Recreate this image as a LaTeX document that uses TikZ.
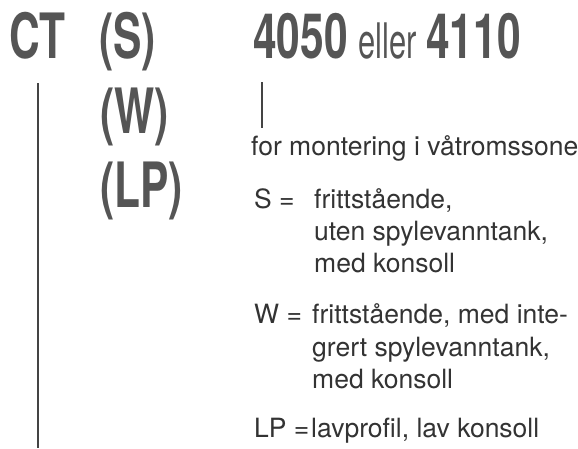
\documentclass[tikz,border=0pt]{standalone}
\usepackage{fontspec}
\setmainfont{TeX Gyre Heros}
\newfontfamily\condfont[FakeStretch=0.63]{TeX Gyre Heros}
\newfontfamily\condboldfont[FakeStretch=0.68]{TeX Gyre Heros}
\definecolor{biggray}{HTML}{555555}
\definecolor{txtgray}{HTML}{333333}
\definecolor{linegray}{HTML}{444444}
\begin{document}
\begin{tikzpicture}[x=1pt,y=-1pt,
  big/.style={anchor=base west,inner sep=0pt,text=biggray,font=\condboldfont\bfseries\fontsize{62.5}{70}\selectfont},
  mid/.style={anchor=base west,inner sep=0pt,text=biggray,font=\condfont\fontsize{49}{55}\selectfont},
  small/.style={anchor=base west,inner sep=0pt,text=txtgray,font=\fontsize{26.5}{32}\selectfont},
  rule/.style={draw=linegray,line width=2.4pt}]
\useasboundingbox[fill=white] (0,0) rectangle (578,448);
% header row
\node[big] (ct) at (9,58) {CT};
\node[big] (s) at (99,58) {(S)};
\node[big] (w) at (100,133) {(W)};
\node[big] (lp) at (100,207) {(LP)};
\node[big] (n1) at (253,58) {4050};
\node[mid] (or) at (358,58) {eller};
\node[big] (n2) at (426,58) {4110};
% rules
\coordinate (cta) at (38,83);
\coordinate (ctb) at (38,448);
\coordinate (nra) at (262,82);
\coordinate (nrb) at (262,128);
\draw[rule] (cta) -- (ctb);
\draw[rule] (nra) -- (nrb);
% descriptions
\node[small] (wet) at (251,155) {for montering i våtromssone};
\node[small] (sk) at (254,208) {S =};
\node[small] (s1) at (314,208) {frittstående,};
\node[small] (s2) at (314,240) {uten spylevanntank,};
\node[small] (s3) at (314,272) {med konsoll};
\node[small] (wk) at (254,323) {W =};
\node[small] (w1) at (312,323) {frittstående, med inte-};
\node[small] (w2) at (312,356) {grert spylevanntank,};
\node[small] (w3) at (312,388) {med konsoll};
\node[small] (lk) at (254,437) {LP =};
\node[small] (l1) at (311,437) {lavprofil, lav konsoll};
\end{tikzpicture}
\end{document}
